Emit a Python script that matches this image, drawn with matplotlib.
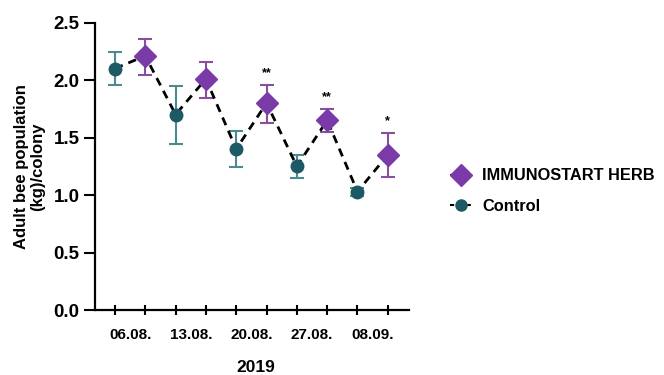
import numpy as np
import matplotlib
matplotlib.use('Agg')
import matplotlib.pyplot as plt
from matplotlib.lines import Line2D

plt.rcParams['font.family'] = ['Liberation Sans', 'DejaVu Sans']
plt.rcParams['font.weight'] = 'bold'

dates = ['06.08.', '13.08.', '20.08.', '27.08.', '08.09.']
control = [2.10, 1.70, 1.40, 1.25, 1.03]
control_lo = [1.96, 1.44, 1.24, 1.15, 0.99]
control_hi = [2.24, 1.95, 1.56, 1.35, 1.06]
herb = [2.21, 2.01, 1.80, 1.65, 1.35]
herb_lo = [2.04, 1.84, 1.63, 1.55, 1.16]
herb_hi = [2.36, 2.16, 1.96, 1.75, 1.54]
stars = ['', '', '**', '**', '*']

purple = '#7a3aa8'
purple_err = '#8a4f9c'
teal = '#1d5a66'
teal_err = '#4a8a90'

fig = plt.figure(figsize=(6.64, 3.75), dpi=100)
ax = fig.add_axes([0.143, 0.173, 0.473, 0.767])

n = len(dates)
xc = np.arange(n) * 2 + 1
xh = np.arange(n) * 2 + 2
control = np.array(control)
herb = np.array(herb)

# dashed line through all points in time order
xall = np.ravel(np.column_stack([xc, xh]))
yall = np.ravel(np.column_stack([control, herb]))
ax.plot(xall, yall, ls=(0, (3, 2.2)), color='black', lw=2, zorder=2)

ax.errorbar(xc, control, yerr=[control - control_lo, np.array(control_hi) - control],
            fmt='none', ecolor=teal_err, elinewidth=1.5, capsize=5, capthick=1.5, zorder=1)
ax.errorbar(xh, herb, yerr=[herb - herb_lo, np.array(herb_hi) - herb],
            fmt='none', ecolor=purple_err, elinewidth=1.5, capsize=5, capthick=1.5, zorder=1)
ax.plot(xc, control, 'o', color=teal, ms=9, zorder=3)
ax.plot(xh, herb, 'D', color=purple, ms=11, zorder=3)

for x, top, s in zip(xh, herb_hi, stars):
    if s:
        ax.text(x, top + 0.05, s, ha='center', va='bottom', fontsize=9)

ax.set_ylim(0, 2.5)
ax.set_xlim(0.34, 10.7)
ax.set_yticks([0, 0.5, 1.0, 1.5, 2.0, 2.5])
ax.set_yticklabels(['0.0', '0.5', '1.0', '1.5', '2.0', '2.5'])
ax.set_xticks(np.arange(1, 2 * n + 1))
ax.set_xticklabels([])
ax.set_xticks((xc + xh) / 2, minor=True)
ax.set_xticklabels(dates, minor=True)
ax.tick_params(axis='x', which='major', direction='inout', length=7, width=1.5)
ax.tick_params(axis='x', which='minor', length=0, pad=13, labelsize=11)
ax.tick_params(axis='y', direction='out', length=8, width=1.5, labelsize=13.5, pad=3)

for sp in ['top', 'right']:
    ax.spines[sp].set_visible(False)
for sp in ['left', 'bottom']:
    ax.spines[sp].set_linewidth(1.6)

ax.set_ylabel('Adult bee population\n(kg)/colony', fontsize=12, fontweight='bold',
              labelpad=6, linespacing=1.15)
fig.text(0.385, 0.02, '2019', ha='center', va='center', fontsize=12.5, fontweight='bold')

handles = [
    Line2D([], [], color='black', ls=(0, (2, 2)), lw=1.5, marker='D', ms=11,
           mfc=purple, mec=purple),
    Line2D([], [], color='black', ls=(0, (2, 2)), lw=1.5, marker='o', ms=8,
           mfc=teal, mec=teal),
]
fig.legend(handles, ['IMMUNOSTART HERB', 'Control'], loc='center left',
           bbox_to_anchor=(0.655, 0.49), frameon=False, fontsize=11.8,
           handlelength=1.4, handletextpad=0.6, labelspacing=0.95)

fig.savefig('out.png', dpi=100)
